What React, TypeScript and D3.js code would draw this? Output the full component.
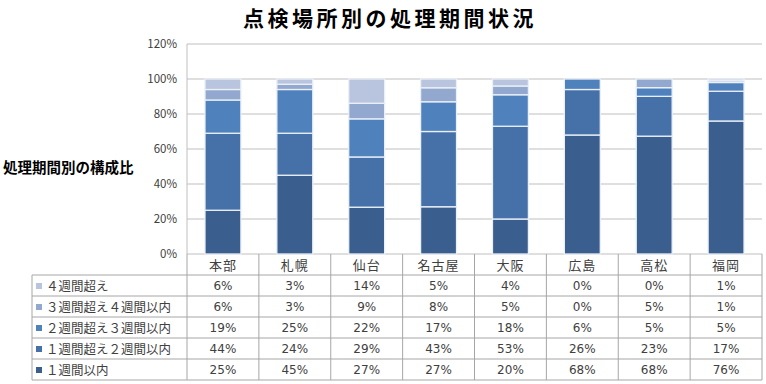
import React from "react";
import * as d3 from "d3";

const categories = ["本部", "札幌", "仙台", "名古屋", "大阪", "広島", "高松", "福岡"];
const within1w = [25, 45, 27, 27, 20, 68, 68, 76];
const w1to2 = [44, 24, 29, 43, 53, 26, 23, 17];
const w2to3 = [19, 25, 22, 17, 18, 6, 5, 5];
const w3to4 = [6, 3, 9, 8, 5, 0, 5, 1];
const over4w = [6, 3, 14, 5, 4, 0, 0, 1];
const yTicks = [0, 0.2, 0.4, 0.6, 0.8, 1.0, 1.2];

const seriesNames = ["１週間以内", "１週間超え２週間以内", "２週間超え３週間以内", "３週間超え４週間以内", "４週間超え"];
const seriesValues = [within1w, w1to2, w2to3, w3to4, over4w];
const colors = ["#3A5E8E", "#4571A8", "#4F81BD", "#93A8CF", "#B9C5DF"];

const width = 766;
const height = 384;
const plot = { left: 187, right: 762, top: 44, bottom: 254 };
const rowH = 21;
const tableLeft = 32;
const font = "'Noto Sans CJK JP', 'Noto Sans', sans-serif";
const grid = "#BFBFBF";
const border = "#A6A6A6";

export default function App() {
  const rows = categories.map((c, i) => {
    const r: any = { cat: c };
    seriesNames.forEach((s, k) => (r[s] = seriesValues[k][i]));
    return r;
  });
  const stacked = d3.stack().keys(seriesNames).offset(d3.stackOffsetExpand)(rows);

  const x = d3
    .scaleBand()
    .domain(categories)
    .range([plot.left, plot.right])
    .paddingInner(0.5)
    .paddingOuter(0.25);
  const col = d3.scaleBand().domain(categories).range([plot.left, plot.right]);
  const y = d3.scaleLinear().domain([0, 1.2]).range([plot.bottom, plot.top]);
  const pct = d3.format(".0%");

  const headerBottom = plot.bottom + rowH;
  // table rows listed top to bottom: last series first
  const tableOrder = d3.range(seriesNames.length).reverse();

  return (
    <svg
      width={width}
      height={height}
      style={{ position: "absolute", left: 0, top: 0, background: "#fff" }}
      fontFamily={font}
    >
      <text x={390} y={26} textAnchor="middle" fontSize={21} fontWeight="bold" letterSpacing={3.5} fill="#000">
        点検場所別の処理期間状況
      </text>
      <text x={3} y={173} fontSize={14.5} fontWeight="bold" fill="#000">
        処理期間別の構成比
      </text>

      {/* grid + y ticks */}
      {yTicks.map((t) => (
        <g key={t}>
          <line x1={plot.left} x2={plot.right} y1={y(t)} y2={y(t)} stroke={grid} strokeWidth={1} />
          <text x={177} y={y(t) + 4} textAnchor="end" fontSize={11.5} fill="#404040">
            {pct(t)}
          </text>
        </g>
      ))}
      <line x1={plot.left} x2={plot.left} y1={plot.top} y2={plot.bottom} stroke={grid} />

      {/* bars */}
      {stacked.map((layer, k) => (
        <g key={layer.key} fill={colors[k]}>
          {layer.map((d, i) =>
            d[1] - d[0] > 0 ? (
              <rect
                key={i}
                x={x(categories[i])}
                width={x.bandwidth()}
                y={y(d[1])}
                height={y(d[0]) - y(d[1])}
                stroke="#EAF0F8"
                strokeWidth={1.3}
              />
            ) : null
          )}
        </g>
      ))}

      {/* header row with category names */}
      {categories.map((c) => (
        <g key={c}>
          <line x1={col(c)} x2={col(c)} y1={plot.bottom} y2={headerBottom} stroke={border} />
          <text x={col(c)! + col.bandwidth() / 2} y={plot.bottom + 16} textAnchor="middle" fontSize={13} letterSpacing={1} fill="#404040">
            {c}
          </text>
        </g>
      ))}
      <line x1={plot.right} x2={plot.right} y1={plot.bottom} y2={headerBottom} stroke={border} />

      {/* data table */}
      {tableOrder.map((k, r) => {
        const top = headerBottom + r * rowH;
        return (
          <g key={k}>
            <line x1={tableLeft} x2={plot.right} y1={top} y2={top} stroke={border} />
            <rect x={36} y={top + 8} width={6} height={6} fill={colors[k]} />
            <text x={46} y={top + 15.5} fontSize={12.5} fill="#404040">
              {seriesNames[k]}
            </text>
            {categories.map((c, i) => (
              <text key={c} x={col(c)! + col.bandwidth() / 2} y={top + 15} textAnchor="middle" fontSize={12} fill="#404040" fontFamily="'DejaVu Sans', sans-serif">
                {seriesValues[k][i]}%
              </text>
            ))}
          </g>
        );
      })}
      <line
        x1={tableLeft}
        x2={plot.right}
        y1={headerBottom + rowH * seriesNames.length}
        y2={headerBottom + rowH * seriesNames.length}
        stroke={border}
      />
      <line x1={tableLeft} x2={tableLeft} y1={headerBottom} y2={headerBottom + rowH * seriesNames.length} stroke={border} />
      {categories.map((c) => (
        <line key={c} x1={col(c)} x2={col(c)} y1={headerBottom} y2={headerBottom + rowH * seriesNames.length} stroke={border} />
      ))}
      <line x1={plot.right} x2={plot.right} y1={headerBottom} y2={headerBottom + rowH * seriesNames.length} stroke={border} />
    </svg>
  );
}
